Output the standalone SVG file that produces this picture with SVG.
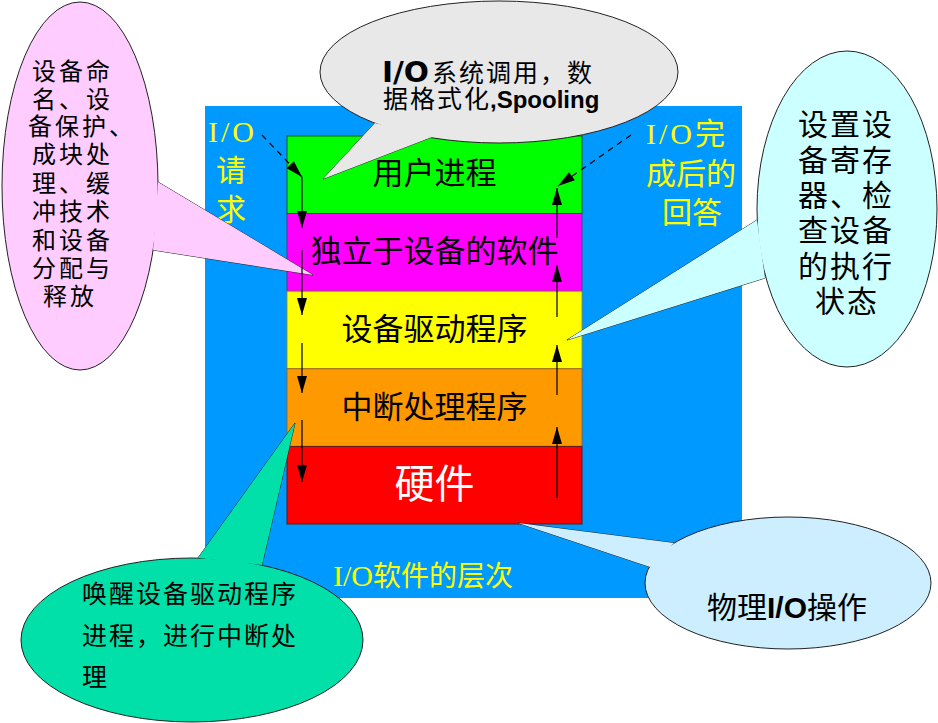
<svg xmlns="http://www.w3.org/2000/svg" width="938" height="723" viewBox="0 0 938 723">
<style>
.cjk{font-family:"Noto Sans CJK SC","Noto Sans",sans-serif;fill:#000}
.ser{font-family:"Liberation Serif","Noto Sans CJK SC",serif}
.yl{fill:#ffff00;font-size:30px}
.lay{font-size:31px;text-anchor:middle}
.bub{stroke:#222;stroke-width:1}
.ln{stroke:#000;stroke-width:1.2;fill:none}
.dash{stroke-dasharray:6 5}
.lat{font-family:"Liberation Sans","DejaVu Sans",sans-serif;font-weight:bold}
</style>
<defs>
<marker id="ah" viewBox="-1 -6 19 12" refX="17" refY="0" markerWidth="19" markerHeight="12" markerUnits="userSpaceOnUse" orient="auto">
<path d="M0,-5 L17,0 L0,5 z" fill="#000"/>
</marker>
</defs>
<rect width="938" height="723" fill="#fff"/>

<g id="frame">
<rect x="205" y="106" width="537" height="492" fill="#0099ff"/>
<text class="ser yl" x="208" y="142" letter-spacing="3">I/O</text>
<text class="cjk yl" x="231" y="181" text-anchor="middle" style="fill:#ffff00">请</text>
<text class="cjk yl" x="231" y="220" text-anchor="middle" style="fill:#ffff00">求</text>
<text class="yl" x="646" y="144"><tspan class="ser" letter-spacing="3">I/O</tspan><tspan class="cjk" style="fill:#ffff00">完</tspan></text>
<text class="cjk yl" x="691" y="184" text-anchor="middle" style="fill:#ffff00">成后的</text>
<text class="cjk yl" x="692" y="223" text-anchor="middle" style="fill:#ffff00">回答</text>
<text class="yl" x="333" y="586" style="font-size:28px"><tspan class="ser" style="font-size:30px">I/O</tspan><tspan class="cjk" style="fill:#ffff00">软件的层次</tspan></text>
</g>

<g id="layer-user">
<rect x="287" y="136" width="295" height="77.6" fill="#00ff00" stroke="#1a5a1a" stroke-width="1"/>
<text class="cjk lay" x="434.5" y="184">用户进程</text>
</g>
<g id="layer-indep">
<rect x="287" y="213.6" width="295" height="77.6" fill="#ff00ff" stroke="#6a2a6a" stroke-width="0.8"/>
<text class="cjk lay" x="434.5" y="262">独立于设备的软件</text>
</g>
<g id="layer-driver">
<rect x="287" y="291.2" width="295" height="77.6" fill="#ffff00" stroke="#8a8a2a" stroke-width="0.8"/>
<text class="cjk lay" x="434.5" y="340">设备驱动程序</text>
</g>
<g id="layer-interrupt">
<rect x="287" y="368.8" width="295" height="77.6" fill="#ff9900" stroke="#9a5a1a" stroke-width="0.8"/>
<text class="cjk lay" x="434.5" y="418">中断处理程序</text>
</g>
<g id="layer-hw">
<rect x="287" y="446.4" width="295" height="77.6" fill="#ff0000" stroke="#5a1a1a" stroke-width="1"/>
<text class="cjk lay" x="434.5" y="498" style="fill:#fff;font-size:40px">硬件</text>
</g>

<g id="callout-pink">
<polygon class="bub" points="158,182 313,275 153,250" fill="#ffccff"/>
<ellipse class="bub" cx="80" cy="186" rx="78" ry="184" fill="#ffccff"/>
<polygon points="158,182 313,275 153,250" fill="#ffccff"/>
<g class="cjk" font-size="24" letter-spacing="3">
<text x="32" y="79.5">设备命</text>
<text x="32" y="107.5">名、设</text>
<text x="28" y="135">备保护、</text>
<text x="32" y="163">成块处</text>
<text x="32" y="191.5">理、缓</text>
<text x="32" y="219.5">冲技术</text>
<text x="32" y="249">和设备</text>
<text x="32" y="276.5">分配与</text>
<text x="43" y="304.5">释放</text>
</g>
</g>

<g id="callout-gray">
<polygon class="bub" points="375,123 323,179 432,137" fill="#e8e8e8"/>
<ellipse class="bub" cx="499" cy="72" rx="179" ry="71" fill="#e8e8e8"/>
<polygon points="375,123 323,179 432,137" fill="#e8e8e8"/>
<text x="382" y="82"><tspan style="font-family:'DejaVu Sans',sans-serif;font-weight:bold;font-size:28px" textLength="47" lengthAdjust="spacingAndGlyphs">I/O</tspan><tspan class="cjk" x="432" font-size="25" letter-spacing="2">系统调用，数</tspan></text>
<text x="383" y="108"><tspan class="cjk" font-size="25" letter-spacing="2">据格式化</tspan><tspan class="lat" x="490" font-size="24">,Spooling</tspan></text>
</g>

<g id="callout-cyan">
<polygon class="bub" points="757,220 567,340 765,278" fill="#ccffff"/>
<ellipse class="bub" cx="847" cy="209" rx="90" ry="158" fill="#ccffff"/>
<polygon points="757,220 567,340 765,278" fill="#ccffff"/>
<g class="cjk" font-size="30" letter-spacing="2">
<text x="798" y="135">设置设</text>
<text x="798" y="170.5">备寄存</text>
<text x="798" y="206">器、检</text>
<text x="798" y="241">查设备</text>
<text x="798" y="276.5">的执行</text>
<text x="815" y="312">状态</text>
</g>
</g>

<g id="callout-green">
<polygon class="bub" points="198,558 295,423 262,565" fill="#00e0a8"/>
<ellipse class="bub" cx="192" cy="640" rx="171" ry="82" fill="#00e0a8"/>
<polygon points="198,558 295,423 262,565" fill="#00e0a8"/>
<g class="cjk" font-size="25" letter-spacing="2">
<text x="82" y="603">唤醒设备驱动程序</text>
<text x="82" y="645">进程，进行中断处</text>
<text x="82" y="686">理</text>
</g>
</g>

<g id="callout-blue">
<polygon class="bub" points="674,543 518,523 650,567" fill="#cceeff"/>
<ellipse class="bub" cx="788" cy="583" rx="143" ry="66" fill="#cceeff"/>
<polygon points="674,543 518,523 650,567" fill="#cceeff"/>
<text x="787" y="618" text-anchor="middle" font-size="30"><tspan class="cjk">物理</tspan><tspan class="lat">I/O</tspan><tspan class="cjk">操作</tspan></text>
</g>

<g id="connectors">
<path class="ln dash" d="M262,135 L302,177" marker-end="url(#ah)"/>
<path class="ln" d="M302,177 L302,228" marker-end="url(#ah)"/>
<path class="ln" d="M302,250 L302,315" marker-end="url(#ah)"/>
<path class="ln" d="M302,343 L302,393" marker-end="url(#ah)"/>
<path class="ln" d="M302,420 L302,482" marker-end="url(#ah)"/>
<path class="ln" d="M557,498 L557,427" marker-end="url(#ah)"/>
<path class="ln" d="M557,395 L557,345" marker-end="url(#ah)"/>
<path class="ln" d="M557,317 L557,265" marker-end="url(#ah)"/>
<path class="ln" d="M557,238 L557,188" marker-end="url(#ah)"/>
<path class="ln dash" d="M631,135 L558,186" marker-end="url(#ah)"/>
</g>
</svg>
